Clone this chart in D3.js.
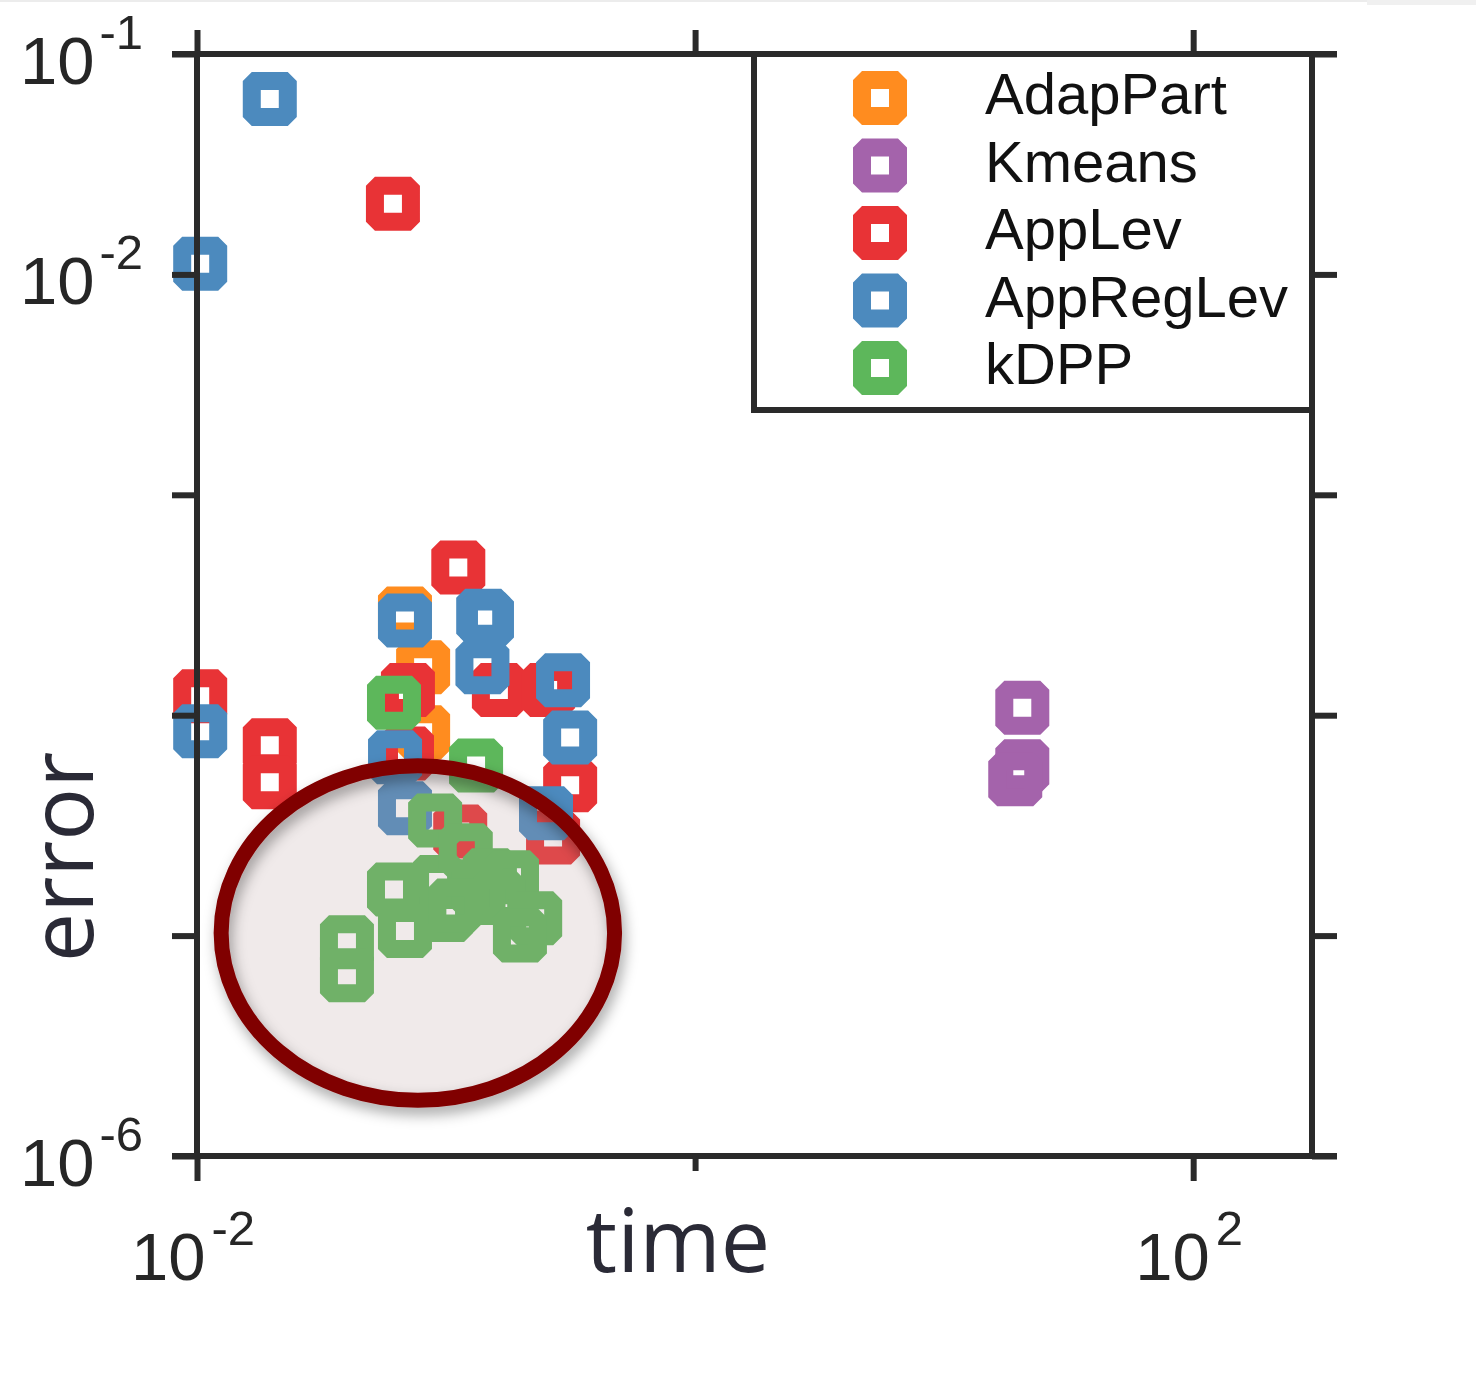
<!DOCTYPE html>
<html>
<head>
<meta charset="utf-8">
<script src="https://cdn.jsdelivr.net/npm/d3@7"></script>
<style>
  html, body { margin: 0; padding: 0; background: #fff; }
  svg { display: block; }
</style>
</head>
<body>
<svg id="chart" width="1476" height="1390"></svg>
<script>
// series order = legend order = draw order
var seriesNames = ["AdapPart", "Kmeans", "AppLev", "AppRegLev", "kDPP"];
var seriesColors = ["#ff8c1f", "#a463ab", "#e83336", "#4c8abe", "#5db75b"];

// [time, error]
var adapPart = [[0.0684, 2.89e-4], [0.0809, 1.65e-4], [0.0809, 8.36e-5]];
var kmeans = [[20.6, 1.08e-4], [20.6, 5.86e-5], [19.3, 5.12e-5]];
var appLev = [
  [0.0612, 0.0209], [0.112, 4.68e-4], [0.0103, 1.22e-4], [0.0196, 7.30e-5],
  [0.0196, 4.96e-5], [0.0703, 1.30e-4], [0.0697, 6.71e-5], [0.163, 1.30e-4],
  [0.257, 1.30e-4], [0.315, 4.81e-5], [0.114, 2.97e-5], [0.269, 2.79e-5]
];
var appRegLev = [
  [0.0196, 0.0625], [0.0103, 0.01117], [0.0103, 8.45e-5], [0.0684, 2.69e-4],
  [0.141, 2.83e-4], [0.146, 2.72e-4], [0.140, 1.65e-4], [0.295, 1.44e-4],
  [0.315, 7.93e-5], [0.0624, 6.44e-5], [0.0684, 3.78e-5], [0.252, 3.59e-5]
];
var kDPP = [
  [0.0618, 1.14e-4], [0.132, 5.92e-5], [0.0904, 3.33e-5], [0.0618, 1.62e-5],
  [0.0929, 1.75e-5], [0.100, 1.24e-5], [0.0684, 1.05e-5], [0.040, 9.33e-6],
  [0.040, 6.61e-6], [0.120, 2.44e-5], [0.150, 1.88e-5], [0.184, 1.84e-5],
  [0.135, 1.61e-5], [0.162, 1.48e-5], [0.228, 1.20e-5], [0.198, 1.00e-5],
  [0.109, 1.37e-5]
];
var allSeries = [adapPart, kmeans, appLev, appRegLev, kDPP];

// axis ticks / labels
var xTicks = [1e-2, 1e0, 1e2];
var xLabelExp = [-2, null, 2];
var yTicks = [1e-1, 1e-2, 1e-3, 1e-4, 1e-5, 1e-6];
var yLabelExp = [-1, -2, null, null, null, -6];

// highlighted region (time range, error range)
var hlTime = [0.0125, 0.475];
var hlError = [1.79e-6, 5.89e-5];

var svg = d3.select("#chart");
var pLeft = 197, pRight = 1312, pTop = 54, pBottom = 1156;
var ink = "#2a2a2a";
var lw = 6;
var tickFont = "'Liberation Sans', Arial, Helvetica, sans-serif";

var x = d3.scaleLog().domain([1e-2, 300]).range([pLeft, pRight]);
var y = d3.scaleLog().domain([1e-6, 1e-1]).range([pBottom, pTop]);

// faint strip along the top edge
svg.append("rect").attr("x", 0).attr("y", 0).attr("width", 1476).attr("height", 2).attr("fill", "#ececec");
svg.append("rect").attr("x", 1367).attr("y", 0).attr("width", 109).attr("height", 5).attr("fill", "#f0f0f0");

// markers
var sym = d3.symbol().type(d3.symbolSquare).size(36 * 36);
var marks = svg.append("g");
allSeries.forEach(function(pts, i) {
  marks.selectAll(null)
    .data(pts)
    .enter().append("path")
    .attr("d", sym)
    .attr("transform", function(d) { return "translate(" + x(d[0]) + "," + y(d[1]) + ")"; })
    .attr("fill", "none")
    .attr("stroke", seriesColors[i])
    .attr("stroke-width", 18)
    .attr("stroke-linejoin", "bevel");
});

// highlight ellipse
var defs = svg.append("defs");
var f = defs.append("filter").attr("id", "shadow")
  .attr("x", "-20%").attr("y", "-20%").attr("width", "140%").attr("height", "140%");
f.append("feDropShadow").attr("dx", 3).attr("dy", 7).attr("stdDeviation", 7)
  .attr("flood-color", "#000").attr("flood-opacity", 0.35);

var ecx = (x(hlTime[0]) + x(hlTime[1])) / 2;
var ecy = (y(hlError[0]) + y(hlError[1])) / 2;
var erx = (x(hlTime[1]) - x(hlTime[0])) / 2;
var ery = (y(hlError[0]) - y(hlError[1])) / 2;
svg.append("ellipse")
  .attr("cx", ecx).attr("cy", ecy).attr("rx", erx).attr("ry", ery)
  .attr("fill", "rgb(183,155,155)").attr("fill-opacity", 0.21);
svg.append("ellipse")
  .attr("cx", ecx).attr("cy", ecy).attr("rx", erx).attr("ry", ery)
  .attr("fill", "none").attr("stroke", "#800000").attr("stroke-width", 15)
  .attr("filter", "url(#shadow)");

// frame
var frame = svg.append("g").attr("stroke", ink).attr("stroke-width", lw).attr("fill", "none");
frame.append("line").attr("x1", pLeft - 25).attr("x2", pRight + 25).attr("y1", pTop).attr("y2", pTop);
frame.append("line").attr("x1", pLeft - 25).attr("x2", pRight + 25).attr("y1", pBottom).attr("y2", pBottom);
frame.append("line").attr("x1", pLeft).attr("x2", pLeft).attr("y1", pTop).attr("y2", pBottom);
frame.append("line").attr("x1", pRight).attr("x2", pRight).attr("y1", pTop).attr("y2", pBottom);

// x ticks (bottom and top)
var xb = svg.append("g").attr("transform", "translate(0," + pBottom + ")")
  .call(d3.axisBottom(x).tickValues(xTicks).tickSize(25).tickFormat(""));
var xt = svg.append("g").attr("transform", "translate(0," + pTop + ")")
  .call(d3.axisTop(x).tickValues(xTicks).tickSize(24).tickFormat(""));
// y ticks (left and right)
var yl = svg.append("g").attr("transform", "translate(" + pLeft + ",0)")
  .call(d3.axisLeft(y).tickValues(yTicks).tickSize(25).tickFormat(""));
var yr = svg.append("g").attr("transform", "translate(" + pRight + ",0)")
  .call(d3.axisRight(y).tickValues(yTicks).tickSize(25).tickFormat(""));
[xb, xt, yl, yr].forEach(function(g) {
  g.select(".domain").remove();
  g.selectAll(".tick line").attr("stroke", ink).attr("stroke-width", lw);
});
// unlabeled bottom tick is shorter
xb.selectAll(".tick line").attr("y2", function(d, i) { return xLabelExp[i] === null ? 15 : 25; });

// tick labels
xTicks.forEach(function(v, i) {
  if (xLabelExp[i] === null) return;
  var t = svg.append("text")
    .attr("x", x(v) - 4).attr("y", 1280)
    .attr("text-anchor", "middle")
    .attr("font-family", tickFont).attr("font-size", 67).attr("fill", "#262626");
  t.append("tspan").text("10");
  t.append("tspan").attr("dx", 6).attr("dy", -35).attr("font-size", 49).text(xLabelExp[i] < 0 ? "-" + (-xLabelExp[i]) : xLabelExp[i]);
});
yTicks.forEach(function(v, i) {
  if (yLabelExp[i] === null) return;
  var t = svg.append("text")
    .attr("x", 143).attr("y", y(v) + 30)
    .attr("text-anchor", "end")
    .attr("font-family", tickFont).attr("font-size", 67).attr("fill", "#262626");
  t.append("tspan").text("10");
  t.append("tspan").attr("dx", 5).attr("dy", -35).attr("font-size", 49).text("-" + (-yLabelExp[i]));
});

// axis titles
svg.append("text")
  .attr("x", 678).attr("y", 1272)
  .attr("text-anchor", "middle")
  .attr("font-family", "'Open Sans', sans-serif").attr("font-size", 88)
  .attr("fill", "#2a2a36").text("time");
svg.append("text")
  .attr("transform", "translate(93,857) rotate(-90)")
  .attr("text-anchor", "middle")
  .attr("font-family", "'Open Sans', sans-serif").attr("font-size", 88)
  .attr("fill", "#2a2a36").text("error");

// legend
var lg = svg.append("g");
lg.append("rect").attr("x", 754).attr("y", pTop).attr("width", pRight - 754).attr("height", 410 - pTop)
  .attr("fill", "#fff").attr("stroke", ink).attr("stroke-width", lw);
seriesNames.forEach(function(name, i) {
  var ly = 98 + i * 67.5;
  lg.append("path").attr("d", sym)
    .attr("transform", "translate(880," + ly + ")")
    .attr("fill", "none").attr("stroke", seriesColors[i])
    .attr("stroke-width", 18).attr("stroke-linejoin", "bevel");
  lg.append("text").attr("x", 985).attr("y", ly + 16)
    .attr("font-family", tickFont).attr("font-size", 58).attr("fill", "#111")
    .text(name);
});
</script>
</body>
</html>
